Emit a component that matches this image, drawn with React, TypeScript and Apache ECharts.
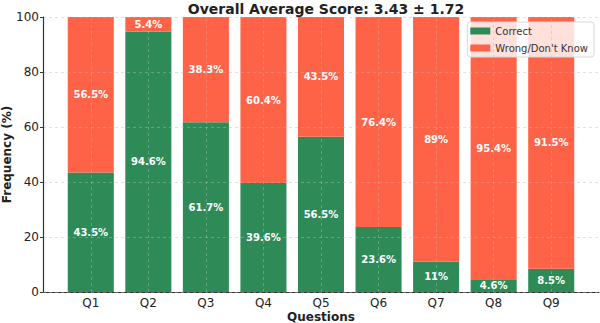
import React, { useEffect, useRef } from "react";
import * as echarts from "echarts";

const questions = ["Q1", "Q2", "Q3", "Q4", "Q5", "Q6", "Q7", "Q8", "Q9"];
const correct = [43.5, 94.6, 61.7, 39.6, 56.5, 23.6, 11, 4.6, 8.5];
const wrong = [56.5, 5.4, 38.3, 60.4, 43.5, 76.4, 89, 95.4, 91.5];
const titleText = "Overall Average Score: 3.43 \u00b1 1.72";

const FONT = "DejaVu Sans";
const GREEN = "#2E8B57";
const RED = "#FF6347";
const AXIS = "#333333";
const GRIDLINE = "rgba(185,185,185,0.55)";

export default function App() {
  const ref = useRef<HTMLDivElement>(null);

  useEffect(() => {
    document.body.style.margin = "0";
    if (!ref.current) return;
    const chart = echarts.init(ref.current, undefined, { renderer: "svg" });

    const barLabel = {
      show: true,
      position: "inside",
      color: "#ffffff",
      fontWeight: "bold",
      fontFamily: FONT,
      fontSize: 10,
      formatter: (p: any) => `${p.value}%`,
    };

    const top = 17;
    const bottom = 31;

    chart.setOption({
      animation: false,
      textStyle: { fontFamily: FONT },
      title: {
        text: titleText,
        left: 321,
        textAlign: "center",
        top: -3,
        textStyle: { fontFamily: FONT, fontWeight: "bold", fontSize: 14, color: "#222" },
      },
      legend: {
        orient: "vertical",
        right: 6,
        top: 22,
        itemWidth: 20,
        itemHeight: 7,
        itemGap: 7,
        icon: "rect",
        padding: [4, 6, 4, 3],
        borderColor: "#d8d8d8",
        borderWidth: 1,
        borderRadius: 3,
        backgroundColor: "rgba(255,255,255,0.8)",
        textStyle: { fontFamily: FONT, fontSize: 10, color: "#333" },
        data: ["Correct", "Wrong/Don't Know"],
      },
      grid: [
        // bars
        { left: 62, width: 518, top, bottom, outerBoundsMode: "none" },
        // full-width frame: axis lines, y labels, horizontal grid
        { left: 43, right: 1, top, bottom, outerBoundsMode: "none" },
      ],
      xAxis: [
        {
          type: "category",
          gridIndex: 0,
          data: questions,
          axisLine: { show: false },
          axisTick: { show: false },
          axisLabel: { fontFamily: FONT, fontSize: 12, color: "#222", margin: 5 },
          splitLine: { show: false },
        },
        {
          type: "value",
          gridIndex: 1,
          min: 0,
          max: 1,
          name: "Questions",
          nameLocation: "middle",
          nameGap: 19,
          nameMoveOverlap: false,
          nameTextStyle: { fontFamily: FONT, fontWeight: "bold", fontSize: 12, color: "#222" },
          axisLine: { show: true, onZero: false, lineStyle: { color: AXIS, width: 1.2 } },
          axisTick: { show: false },
          axisLabel: { show: false },
          splitLine: { show: false },
        },
      ],
      yAxis: [
        { type: "value", gridIndex: 0, min: 0, max: 100, show: false },
        {
          type: "value",
          gridIndex: 1,
          min: 0,
          max: 100,
          interval: 20,
          z: 10,
          name: "Frequency (%)",
          nameLocation: "middle",
          nameGap: 30,
          nameMoveOverlap: false,
          nameTextStyle: { fontFamily: FONT, fontWeight: "bold", fontSize: 12, color: "#222" },
          axisLine: { show: true, onZero: false, lineStyle: { color: AXIS, width: 1.2 } },
          axisTick: { show: true, length: 3, lineStyle: { color: AXIS } },
          axisLabel: { fontFamily: FONT, fontSize: 12, color: "#222", margin: 4 },
          splitLine: { show: true, lineStyle: { type: [3, 3], color: GRIDLINE, width: 0.8 } },
        },
      ],
      series: [
        {
          name: "Correct",
          type: "bar",
          xAxisIndex: 0,
          yAxisIndex: 0,
          stack: "total",
          barWidth: "80%",
          itemStyle: { color: GREEN },
          label: barLabel,
          data: correct,
        },
        {
          name: "Wrong/Don't Know",
          type: "bar",
          xAxisIndex: 0,
          yAxisIndex: 0,
          stack: "total",
          barWidth: "80%",
          itemStyle: { color: RED },
          label: barLabel,
          data: wrong,
          markLine: {
            silent: true,
            symbol: "none",
            label: { show: false },
            lineStyle: { type: [3, 3], color: GRIDLINE, width: 0.8 },
            data: questions.map((q) => ({ xAxis: q })),
          },
        },
      ],
    });
    return () => chart.dispose();
  }, []);

  return <div ref={ref} style={{ width: 600, height: 323 }} />;
}
